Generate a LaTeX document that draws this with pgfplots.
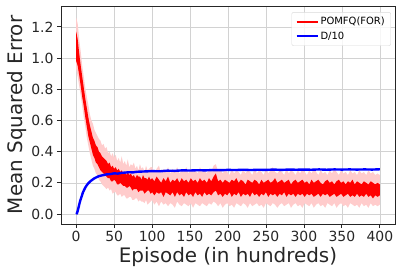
\documentclass[border=0pt]{standalone}
\usepackage{pgfplots}
\pgfplotsset{compat=1.18}
\usepackage{pgfplotstable}
\usepgfplotslibrary{fillbetween}
\usepackage{fontspec}
\setmainfont{DejaVu Sans}
\definecolor{mplred}{RGB}{255,0,0}
\definecolor{mplpink}{RGB}{255,204,204}
\definecolor{mplblue}{RGB}{0,0,255}

\pgfplotstableread{
x rlo rhi plo phi
0 0.98 1.17 0.93 1.26
2 0.95 1.12 0.88 1.22
4 0.89 1.03 0.82 1.12
6 0.82 0.95 0.76 1.04
8 0.75 0.88 0.69 0.95
10 0.69 0.81 0.62 0.88
12 0.62 0.74 0.56 0.81
14 0.56 0.68 0.49 0.75
16 0.50 0.62 0.44 0.70
18 0.46 0.57 0.39 0.64
20 0.42 0.53 0.35 0.60
22 0.38 0.49 0.31 0.58
24 0.36 0.47 0.29 0.54
26 0.33 0.44 0.26 0.52
28 0.32 0.43 0.25 0.50
30 0.30 0.40 0.22 0.48
32 0.28 0.39 0.21 0.47
34 0.27 0.37 0.19 0.44
36 0.26 0.36 0.18 0.45
38 0.25 0.35 0.17 0.42
40 0.24 0.34 0.16 0.43
42 0.23 0.32 0.17 0.39
44 0.23 0.33 0.15 0.40
46 0.21 0.30 0.16 0.37
48 0.21 0.31 0.13 0.39
50 0.22 0.29 0.14 0.36
52 0.21 0.30 0.14 0.38
54 0.19 0.28 0.12 0.34
56 0.19 0.29 0.12 0.36
58 0.20 0.27 0.13 0.33
60 0.19 0.28 0.11 0.37
62 0.18 0.26 0.12 0.32
64 0.18 0.27 0.12 0.34
66 0.17 0.25 0.10 0.31
68 0.17 0.27 0.10 0.35
70 0.18 0.25 0.11 0.30
72 0.17 0.26 0.11 0.32
74 0.15 0.24 0.09 0.31
76 0.16 0.25 0.09 0.33
78 0.16 0.23 0.10 0.29
80 0.16 0.25 0.10 0.31
82 0.14 0.24 0.08 0.28
84 0.15 0.24 0.09 0.32
86 0.15 0.22 0.08 0.29
88 0.15 0.25 0.08 0.30
90 0.13 0.23 0.07 0.27
92 0.14 0.23 0.09 0.31
94 0.15 0.22 0.06 0.28
96 0.15 0.24 0.07 0.29
98 0.13 0.22 0.08 0.30
100 0.14 0.23 0.09 0.30
103 0.12 0.21 0.06 0.27
106 0.14 0.24 0.08 0.29
109 0.13 0.22 0.05 0.31
112 0.14 0.20 0.08 0.26
115 0.11 0.23 0.06 0.29
118 0.14 0.21 0.07 0.27
121 0.13 0.24 0.05 0.30
124 0.12 0.20 0.07 0.26
127 0.14 0.22 0.06 0.29
130 0.11 0.21 0.04 0.27
133 0.14 0.23 0.08 0.30
136 0.12 0.20 0.06 0.26
139 0.13 0.23 0.05 0.28
142 0.11 0.21 0.07 0.27
145 0.14 0.22 0.06 0.30
148 0.12 0.20 0.05 0.26
151 0.13 0.23 0.07 0.29
154 0.11 0.21 0.04 0.27
157 0.14 0.22 0.07 0.28
160 0.12 0.20 0.06 0.26
163 0.13 0.23 0.05 0.30
166 0.11 0.21 0.07 0.27
169 0.14 0.22 0.06 0.28
172 0.12 0.20 0.05 0.26
175 0.13 0.23 0.07 0.29
178 0.12 0.21 0.06 0.27
181 0.14 0.24 0.08 0.31
184 0.15 0.26 0.07 0.32
187 0.12 0.21 0.05 0.27
190 0.13 0.22 0.07 0.29
193 0.11 0.20 0.04 0.26
196 0.13 0.22 0.06 0.28
199 0.12 0.21 0.07 0.27
202 0.14 0.20 0.05 0.25
205 0.11 0.22 0.06 0.29
208 0.13 0.21 0.04 0.26
211 0.12 0.23 0.07 0.28
214 0.14 0.20 0.06 0.27
217 0.11 0.22 0.05 0.25
220 0.13 0.21 0.07 0.29
223 0.12 0.19 0.06 0.26
226 0.13 0.22 0.04 0.28
229 0.11 0.21 0.07 0.27
232 0.14 0.20 0.05 0.25
235 0.12 0.22 0.06 0.29
238 0.13 0.21 0.07 0.26
241 0.11 0.19 0.05 0.28
244 0.13 0.22 0.06 0.27
247 0.12 0.20 0.04 0.25
250 0.14 0.21 0.07 0.29
253 0.11 0.22 0.06 0.26
256 0.13 0.20 0.05 0.28
259 0.12 0.21 0.07 0.30
262 0.13 0.23 0.06 0.27
265 0.11 0.20 0.04 0.26
268 0.13 0.21 0.06 0.28
271 0.12 0.22 0.07 0.27
274 0.14 0.20 0.05 0.25
277 0.11 0.21 0.06 0.29
280 0.13 0.22 0.07 0.26
283 0.12 0.19 0.04 0.28
286 0.13 0.21 0.06 0.27
289 0.11 0.22 0.07 0.25
292 0.13 0.20 0.05 0.28
295 0.12 0.21 0.06 0.26
298 0.13 0.22 0.04 0.29
301 0.11 0.20 0.07 0.27
304 0.13 0.21 0.06 0.25
307 0.12 0.19 0.05 0.28
310 0.13 0.22 0.07 0.26
313 0.11 0.20 0.04 0.29
316 0.12 0.21 0.06 0.27
319 0.13 0.22 0.07 0.25
322 0.11 0.20 0.05 0.28
325 0.13 0.19 0.06 0.26
328 0.12 0.21 0.04 0.27
331 0.13 0.22 0.07 0.25
334 0.11 0.20 0.06 0.28
337 0.12 0.21 0.05 0.26
340 0.13 0.19 0.07 0.29
343 0.11 0.21 0.04 0.27
346 0.12 0.22 0.06 0.25
349 0.13 0.20 0.07 0.28
352 0.11 0.21 0.05 0.26
355 0.12 0.19 0.06 0.27
358 0.13 0.21 0.04 0.25
361 0.11 0.20 0.07 0.28
364 0.12 0.22 0.06 0.26
367 0.11 0.19 0.05 0.27
370 0.13 0.21 0.06 0.25
373 0.11 0.20 0.04 0.28
376 0.12 0.19 0.07 0.26
379 0.11 0.21 0.05 0.27
382 0.13 0.20 0.06 0.25
385 0.11 0.19 0.04 0.28
388 0.12 0.21 0.07 0.26
391 0.10 0.20 0.05 0.27
394 0.12 0.19 0.06 0.25
397 0.11 0.20 0.05 0.26
400 0.12 0.19 0.06 0.25
}\errtable

\pgfplotstableread{
x y
0 0.000
1 0.005
2 0.020
3 0.040
4 0.060
5 0.080
6 0.095
7 0.110
8 0.125
9 0.140
10 0.150
12 0.170
14 0.185
16 0.197
18 0.207
20 0.215
23 0.226
26 0.234
30 0.243
35 0.249
40 0.254
45 0.256
50 0.261
55 0.259
60 0.264
65 0.266
70 0.268
75 0.267
80 0.271
90 0.273
100 0.275
110 0.274
120 0.278
130 0.277
140 0.280
150 0.279
160 0.281
170 0.280
180 0.282
190 0.281
200 0.283
210 0.282
220 0.284
230 0.282
240 0.284
250 0.283
260 0.285
270 0.283
280 0.285
290 0.284
300 0.285
310 0.284
320 0.286
330 0.284
340 0.286
350 0.285
360 0.286
370 0.285
380 0.286
390 0.285
400 0.287
}\bluetable

\begin{document}
\begin{tikzpicture}
\begin{axis}[
  scale only axis,
  width=334bp, height=218bp,
  xmin=-20, xmax=420,
  ymin=-0.064, ymax=1.334,
  xtick={0,50,...,400},
  ytick={0,0.2,...,1.2},
  yticklabel style={/pgf/number format/.cd,fixed,fixed zerofill,precision=1},
  /pgf/number format/assume math mode=true,
  tick label style={font=\fontsize{14}{16}\selectfont, color=black!85},
  label style={font=\fontsize{20}{23}\selectfont, color=black!85},
  xlabel={Episode (in hundreds)},
  ylabel={Mean Squared Error},
  xlabel style={yshift=2bp},
  ylabel style={yshift=-2bp},
  tick align=outside,
  tick pos=left,
  major tick length=4bp,
  every tick/.style={black!85, line width=0.8bp},
  axis line style={black!85, line width=0.9bp},
  grid=major,
  grid style={gray!35, line width=0.6bp},
  legend style={at={(rel axis cs:0.988,0.972)}, anchor=north east,
    font=\fontsize{10}{12}\selectfont, draw=gray!30, rounded corners=2bp,
    fill=white, fill opacity=0.8, text opacity=1,
    inner xsep=4bp, inner ysep=3bp, row sep=1.5bp},
  legend cell align=left,
]
\addplot[draw=none, name path=plo, forget plot] table[x=x, y=plo] {\errtable};
\addplot[draw=none, name path=phi, forget plot] table[x=x, y=phi] {\errtable};
\addplot[mplpink, forget plot] fill between[of=plo and phi];
\addplot[draw=none, name path=rlo, forget plot] table[x=x, y=rlo] {\errtable};
\addplot[draw=none, name path=rhi, forget plot] table[x=x, y=rhi] {\errtable};
\addplot[mplred, forget plot] fill between[of=rlo and rhi];
\addlegendimage{legend image code/.code={\draw[mplred, line width=1.8bp] (0bp,0bp) -- (21bp,0bp);}}
\addlegendentry{POMFQ(FOR)}
\addplot[mplblue, line width=2.4bp, forget plot] table[x=x, y=y] {\bluetable};
\addlegendimage{legend image code/.code={\draw[mplblue, line width=1.8bp] (0bp,0bp) -- (21bp,0bp);}}
\addlegendentry{D/10}
\end{axis}
\pgfresetboundingbox
\path (-61bp,-52bp) rectangle (342bp,224bp);
\end{tikzpicture}
\end{document}
